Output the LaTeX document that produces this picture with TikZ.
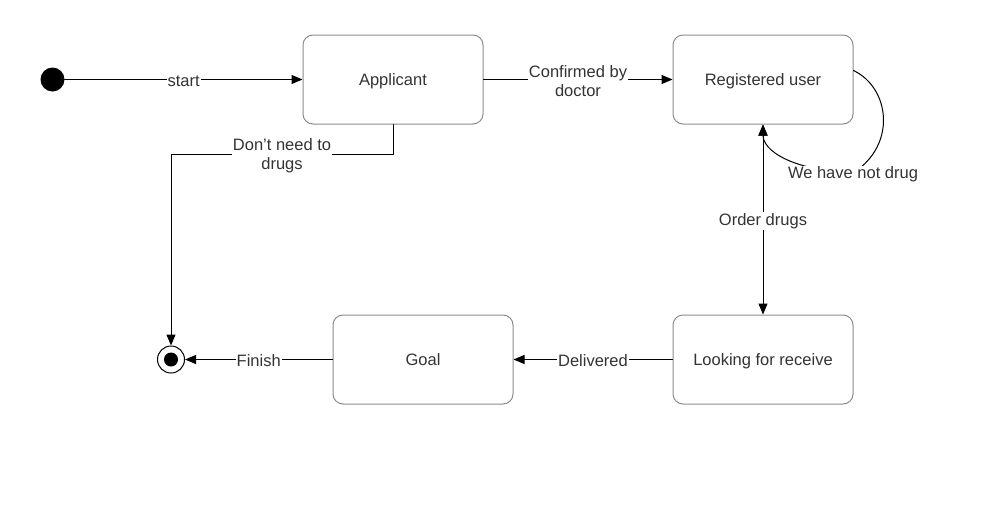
\documentclass[tikz,border=0pt]{standalone}
\usepackage{fontspec}
\setmainfont{Liberation Sans}
\usetikzlibrary{arrows.meta}
\usetikzlibrary{calc}

\begin{document}
\begin{tikzpicture}[line cap=round,line join=round,x=1pt,y=-1pt,
  font=\fontsize{16.5}{19}\selectfont,
  zustand/.style={draw=black!45,line width=1pt,rounded corners=10pt,minimum width=180pt,minimum height=89pt,text=black!80,inner sep=0pt,text height=12pt,text depth=0pt},
  pfeil/.style={-{Triangle[length=11pt,width=9pt]},line width=1pt,color=black},
  beschr/.style={fill=white,text=black!80,inner sep=1pt,align=center,yshift=-1.5pt}]
\useasboundingbox (0,0) rectangle (986,520);

% Die Zustaende
\node[zustand] (applicant) at (393,79.5) {Applicant};
\node[zustand] (registered) at (763,79.5) {Registered user};
\node[zustand] (looking) at (763,359.5) {Looking for receive};
\node[zustand] (goal) at (423,359.5) {Goal};

% Start und Ende
\node[circle,fill=black,minimum size=24pt,inner sep=0pt] (start) at (52.5,79.5) {};
\node[circle,draw=black,line width=1pt,minimum size=27pt,inner sep=0pt] (ende) at (171,359.5) {};
\node[circle,fill=black,minimum size=14pt,inner sep=0pt] (endepunkt) at (ende) {};

% Uebergaenge
\draw[pfeil] (start) -- node[beschr] {start} (applicant);
\draw[pfeil] (applicant) -- node[beschr] {Confirmed by\\doctor} (registered);
\draw[pfeil] (applicant.south) -- ($(applicant.south)+(0,30)$) -| node[beschr,pos=0.25] {Don't need to\\drugs} (ende.north);
\draw[{Triangle[length=11pt,width=9pt]}-{Triangle[length=11pt,width=9pt]},line width=1pt] (registered) -- node[beschr] {Order drugs} (looking);
\draw[pfeil] (looking) -- node[beschr] {Delivered} (goal);
\draw[pfeil] (goal) -- node[beschr] {Finish} (ende);

% Schleife am Registered user
\draw[pfeil] ($(registered.east)+(0,-9)$) .. controls (890,88) and (897,145) .. (853,173) .. controls (790,170) and (763,150) .. (registered.south);
\node[beschr] (nodrug) at (853,173) {We have not drug};
\end{tikzpicture}
\end{document}
